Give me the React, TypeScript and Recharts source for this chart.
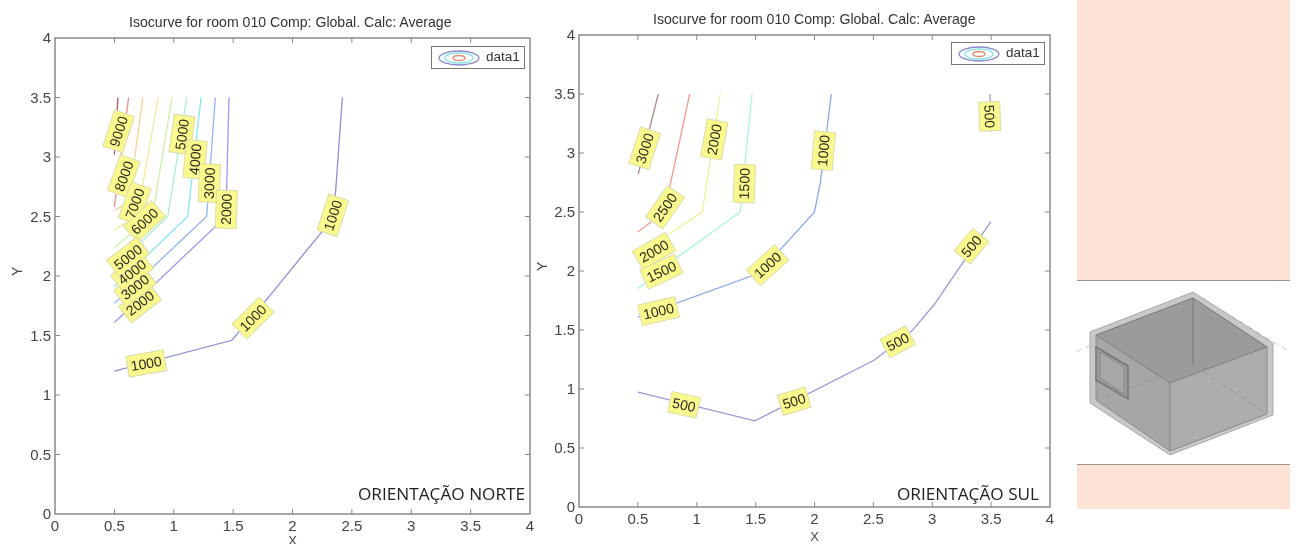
import { LineChart, Line, XAxis, YAxis, ReferenceArea } from 'recharts';

const axisTicks = [0, 0.5, 1, 1.5, 2, 2.5, 3, 3.5, 4];
const chartTitle = 'Isocurve for room 010 Comp: Global. Calc: Average';

// left chart (orientacao norte), curves
const norte10000 = [{ x: 0.5, y: 3.02 }, { x: 0.53, y: 3.5 }];
const norte9000 = [{ x: 0.5, y: 2.58 }, { x: 0.62, y: 3.5 }];
const norte8000 = [{ x: 0.5, y: 2.55 }, { x: 0.62, y: 2.62 }, { x: 0.74, y: 3.5 }];
const norte7000 = [{ x: 0.5, y: 2.39 }, { x: 0.69, y: 2.5 }, { x: 0.87, y: 3.5 }];
const norte6000 = [{ x: 0.5, y: 2.24 }, { x: 0.82, y: 2.5 }, { x: 0.985, y: 3.5 }];
const norte5000 = [{ x: 0.5, y: 2.07 }, { x: 0.95, y: 2.5 }, { x: 1.11, y: 3.5 }];
const norte4000 = [{ x: 0.5, y: 1.91 }, { x: 1.117, y: 2.5 }, { x: 1.23, y: 3.5 }];
const norte3000 = [{ x: 0.5, y: 1.77 }, { x: 1.277, y: 2.5 }, { x: 1.35, y: 3.5 }];
const norte2000 = [{ x: 0.5, y: 1.61 }, { x: 1.44, y: 2.5 }, { x: 1.445, y: 2.72 }, { x: 1.465, y: 3.5 }];
const norte1000 = [
  { x: 0.5, y: 1.2 }, { x: 1.49, y: 1.46 }, { x: 1.78, y: 1.8 }, { x: 2.25, y: 2.375 },
  { x: 2.36, y: 2.67 }, { x: 2.42, y: 3.5 },
];
const norteCurves = [norte1000, norte2000, norte3000, norte4000, norte5000, norte6000, norte7000, norte8000, norte9000, norte10000];
const norteColors = ['#8d8dd8', '#9c9af0', '#90b4f8', '#84e6f2', '#a6f0d4', '#cdf2a8', '#f2ec9c', '#fbcf92', '#f28c88', '#b85a62'];

const norteLabels = [
  { x: 0.536, y: 3.216, text: '9000', angle: -72 },
  { x: 0.58, y: 2.84, text: '8000', angle: -70 },
  { x: 0.672, y: 2.61, text: '7000', angle: -70 },
  { x: 0.754, y: 2.46, text: '6000', angle: -43 },
  { x: 1.07, y: 3.19, text: '5000', angle: -82 },
  { x: 1.18, y: 2.98, text: '4000', angle: -85 },
  { x: 1.3, y: 2.78, text: '3000', angle: -88 },
  { x: 1.443, y: 2.56, text: '2000', angle: -88 },
  { x: 2.34, y: 2.51, text: '1000', angle: -72 },
  { x: 0.716, y: 1.773, text: '2000', angle: -38 },
  { x: 0.674, y: 1.908, text: '3000', angle: -38 },
  { x: 0.649, y: 2.034, text: '4000', angle: -38 },
  { x: 0.615, y: 2.16, text: '5000', angle: -38 },
  { x: 0.768, y: 1.265, text: '1000', angle: -10 },
  { x: 1.667, y: 1.647, text: '1000', angle: -45 },
];

// right chart (orientacao sul)
const sul3000 = [{ x: 0.503, y: 2.82 }, { x: 0.673, y: 3.5 }];
const sul2500 = [{ x: 0.5, y: 2.33 }, { x: 0.725, y: 2.5 }, { x: 0.94, y: 3.5 }];
const sul2000 = [{ x: 0.5, y: 2.13 }, { x: 0.754, y: 2.305 }, { x: 1.047, y: 2.5 }, { x: 1.105, y: 2.88 }, { x: 1.2, y: 3.5 }];
const sul1500 = [{ x: 0.5, y: 1.85 }, { x: 0.84, y: 2.12 }, { x: 1.37, y: 2.5 }, { x: 1.41, y: 2.91 }, { x: 1.47, y: 3.5 }];
const sul1000 = [
  { x: 0.5, y: 1.61 }, { x: 1.5, y: 1.97 }, { x: 1.69, y: 2.16 }, { x: 2, y: 2.5 },
  { x: 2.05, y: 2.75 }, { x: 2.143, y: 3.5 },
];
const sul500Low = [
  { x: 0.5, y: 0.973 }, { x: 1.494, y: 0.73 }, { x: 2.51, y: 1.246 }, { x: 2.83, y: 1.495 },
  { x: 3.02, y: 1.72 }, { x: 3.497, y: 2.418 },
];
const sul500High = [{ x: 3.503, y: 3.18 }, { x: 3.49, y: 3.5 }];
const sulCurves = [sul500Low, sul500High, sul1000, sul1500, sul2000, sul2500, sul3000];
const sulColors = ['#9a9ad8', '#9a9ad8', '#8aa8ee', '#a8f5dc', '#eef09a', '#f59a8f', '#b08888'];

const sulLabels = [
  { x: 0.558, y: 3.04, text: '3000', angle: -72 },
  { x: 0.731, y: 2.54, text: '2500', angle: -55 },
  { x: 0.637, y: 2.17, text: '2000', angle: -30 },
  { x: 1.149, y: 3.115, text: '2000', angle: -80 },
  { x: 0.7, y: 1.995, text: '1500', angle: -25 },
  { x: 1.404, y: 2.74, text: '1500', angle: -88 },
  { x: 2.076, y: 3.02, text: '1000', angle: -85 },
  { x: 1.602, y: 2.05, text: '1000', angle: -42 },
  { x: 0.675, y: 1.66, text: '1000', angle: -13 },
  { x: 3.488, y: 3.31, text: '500', angle: 88 },
  { x: 3.333, y: 2.21, text: '500', angle: -50 },
  { x: 2.707, y: 1.4, text: '500', angle: -28 },
  { x: 1.827, y: 0.897, text: '500', angle: -17 },
  { x: 0.892, y: 0.866, text: '500', angle: 12 },
];

const FONT = '"Liberation Sans", Arial, sans-serif';

// boxes and digits are two passes, the digits stay readable where boxes overlap
function LabelBox(props: any) {
  const { cx, cy, payload } = props;
  const w = payload.text.length === 3 ? 29 : 38;
  return (
    <rect
      x={cx - w / 2}
      y={cy - 10.5}
      width={w}
      height={21}
      fill="#f9f98e"
      stroke="#dcdcae"
      transform={`rotate(${payload.angle} ${cx} ${cy})`}
    />
  );
}

function LabelText(props: any) {
  const { cx, cy, payload } = props;
  return (
    <text
      x={cx}
      y={cy + 5}
      textAnchor="middle"
      fontSize={14}
      fontFamily={FONT}
      fill="#2a2a1a"
      transform={`rotate(${payload.angle} ${cx} ${cy})`}
    >
      {payload.text}
    </text>
  );
}

function Panel(props: any) {
  const { left, top, width, yWidth, plotTop, plotBottom, plotRight, xHeight, curves, colors, labels } = props;
  const xTick = (p: any) => {
    const v = p.payload.value;
    const edge = v === 0 || v === 4;
    return (
      <g>
        {!edge && <line x1={p.x} x2={p.x} y1={plotBottom} y2={plotBottom - 5} stroke="#888" />}
        {!edge && <line x1={p.x} x2={p.x} y1={plotTop} y2={plotTop + 5} stroke="#888" />}
        <text x={p.x} y={plotBottom + 17} textAnchor="middle" fontSize={15} fontFamily={FONT} fill="#444">{v}</text>
      </g>
    );
  };
  const yTick = (p: any) => {
    const v = p.payload.value;
    const edge = v === 0 || v === 4;
    return (
      <g>
        {!edge && <line x1={yWidth} x2={yWidth + 5} y1={p.y} y2={p.y} stroke="#888" />}
        {!edge && <line x1={plotRight} x2={plotRight - 5} y1={p.y} y2={p.y} stroke="#888" />}
        <text x={yWidth - 4} y={p.y + 5} textAnchor="end" fontSize={15} fontFamily={FONT} fill="#444">{v}</text>
      </g>
    );
  };
  return (
    <div style={{ position: 'absolute', left, top }}>
      <LineChart width={width} height={544} margin={{ top: plotTop, right: width - plotRight, bottom: 0, left: 0 }}>
        <XAxis
          type="number"
          dataKey="x"
          domain={[0, 4]}
          ticks={axisTicks}
          interval={0}
          height={xHeight}
          axisLine={false}
          tickLine={false}
          tick={xTick}
          label={{ value: 'X', position: 'insideBottom', offset: 0, dy: props.xLabelDy, fontSize: 13, fontFamily: FONT, fill: '#444' }}
        />
        <YAxis
          type="number"
          dataKey="y"
          domain={[0, 4]}
          ticks={axisTicks}
          interval={0}
          width={yWidth}
          axisLine={false}
          tickLine={false}
          tick={yTick}
          label={{ value: 'Y', angle: -90, position: 'insideLeft', dx: props.yLabelDx, fontSize: 14, fontFamily: FONT, fill: '#444' }}
        />
        <ReferenceArea x1={0} x2={4} y1={0} y2={4} fill="none" stroke="#8a8a8a" strokeWidth={1.5} fillOpacity={0} strokeOpacity={1} />
        {curves.map((c: any, i: number) => (
          <Line key={i} data={c} dataKey="y" stroke={colors[i]} strokeWidth={1.3} dot={false} isAnimationActive={false} />
        ))}
        <Line data={labels} dataKey="y" stroke="none" dot={<LabelBox />} isAnimationActive={false} />
        <Line data={labels} dataKey="y" stroke="none" dot={<LabelText />} isAnimationActive={false} />
      </LineChart>
    </div>
  );
}

function LegendBox({ left, top }: { left: number; top: number }) {
  return (
    <div
      style={{
        position: 'absolute', left, top, width: 94, height: 23, boxSizing: 'border-box', border: '1px solid #777',
        background: '#fff', fontFamily: FONT, fontSize: 13.5, color: '#333',
      }}
    >
      <svg width={46} height={21} style={{ position: 'absolute', left: 6, top: 0 }}>
        <ellipse cx={21} cy={11} rx={20} ry={7} fill="none" stroke="#8a8ad0" strokeWidth={1.3} />
        <ellipse cx={21} cy={11} rx={14} ry={5} fill="none" stroke="#88e4e4" strokeWidth={1.3} />
        <ellipse cx={21} cy={11} rx={6} ry={2.5} fill="#fff" stroke="#e08a70" strokeWidth={1.3} />
      </svg>
      <span style={{ position: 'absolute', left: 54, top: 2 }}>data1</span>
    </div>
  );
}

function Caption({ text, left, top }: { text: string; left: number; top: number }) {
  return (
    <div style={{ position: 'absolute', left, top, fontFamily: '"Open Sans", sans-serif', fontSize: 17.2, color: '#222', whiteSpace: 'nowrap' }}>
      {text}
    </div>
  );
}

function Title({ left, top }: { left: number; top: number }) {
  return (
    <div style={{ position: 'absolute', left, top, fontFamily: FONT, fontSize: 14.1, color: '#333', whiteSpace: 'nowrap' }}>
      {chartTitle}
    </div>
  );
}

// room sketch on the right, only an illustration
function RoomSide() {
  return (
    <div style={{ position: 'absolute', left: 1077, top: 0, width: 213, height: 510 }}>
      <div style={{ position: 'absolute', left: 0, top: 0, width: 213, height: 281, background: '#fde3d6', borderBottom: '1px solid #a09288', boxSizing: 'border-box' }} />
      <div style={{ position: 'absolute', left: 0, top: 464, width: 213, height: 45, background: '#fde3d6', borderTop: '1px solid #a09288', boxSizing: 'border-box' }} />
      <svg width={213} height={190} viewBox="1077 281 213 190" style={{ position: 'absolute', left: 0, top: 281 }}>
        <polyline points="1076,352 1096,343" fill="none" stroke="#ccc" strokeDasharray="6 4" />
        <polyline points="1205,300 1290,352" fill="none" stroke="#ccc" strokeDasharray="6 4" />
        <polygon points="1193,292 1273,343 1273,415 1170,455 1090,403 1090,332" fill="#c8c8c8" stroke="#aaa" />
        <polygon points="1193,298 1267,347 1170,383 1096,335" fill="#9b9b9b" stroke="#777" />
        <polygon points="1096,335 1170,383 1170,451 1096,400" fill="#a6a6a6" stroke="#888" />
        <polygon points="1170,383 1267,347 1267,414 1170,451" fill="#adadad" stroke="#888" />
        <line x1={1193} y1={298} x2={1193} y2={365} stroke="#777" />
        <line x1={1193} y1={365} x2={1096} y2={400} stroke="#999" strokeDasharray="8 3" />
        <line x1={1193} y1={365} x2={1267} y2={414} stroke="#999" strokeDasharray="8 3" />
        <polygon points="1096,347 1128,366 1128,399 1096,380" fill="#8f8f8f" fillOpacity={0.5} stroke="#777" strokeWidth={1.5} />
        <polygon points="1100,352 1124,367 1124,394 1100,378" fill="#a8a8a8" stroke="#888" />
      </svg>
    </div>
  );
}

export default function App() {
  return (
    <div style={{ position: 'absolute', left: 0, top: 0, width: 1299, height: 544, background: '#fff', overflow: 'hidden', filter: 'blur(0.4px)' }}>
      <Panel
        left={0} top={0} width={545} yWidth={55} plotTop={38} plotBottom={514} plotRight={530} xHeight={30}
        curves={norteCurves} colors={norteColors} labels={norteLabels} xLabelDy={1} yLabelDx={12}
      />
      <Panel
        left={530} top={0} width={540} yWidth={49} plotTop={35} plotBottom={507} plotRight={520} xHeight={37}
        curves={sulCurves} colors={sulColors} labels={sulLabels} xLabelDy={-3} yLabelDx={7}
      />
      <LegendBox left={431} top={46} />
      <LegendBox left={951} top={42} />
      <Title left={129} top={14} />
      <Title left={653} top={11} />
      <Caption text="ORIENTAÇÃO NORTE" left={358} top={482} />
      <Caption text="ORIENTAÇÃO SUL" left={897} top={482} />
      <RoomSide />
    </div>
  );
}
